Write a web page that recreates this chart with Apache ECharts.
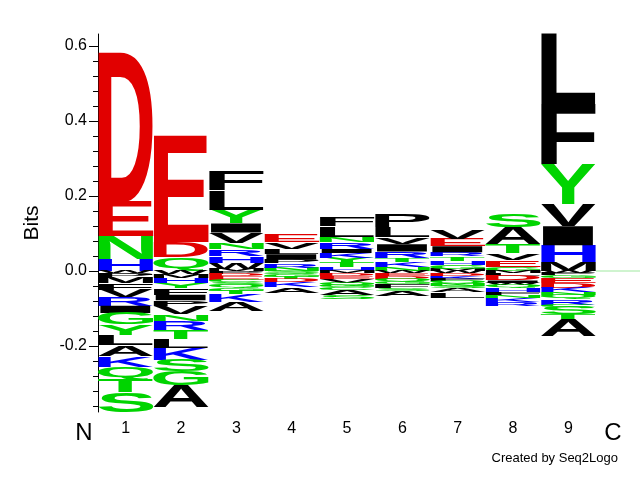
<!DOCTYPE html>
<html>
<head>
<meta charset="utf-8">
<script src="https://cdn.jsdelivr.net/npm/echarts@6/dist/echarts.min.js"></script>
<style>html,body{margin:0;padding:0;background:#fff}#c{width:640px;height:480px}</style>
</head>
<body>
<div id="c"></div>
<script>
// ---- data (letters listed from zero outward; heights in bits) ----
const positions = [1, 2, 3, 4, 5, 6, 7, 8, 9];

const posLetters = [
  ['H','N','E','D'],
  ['Q','D','E'],
  ['M','W','H','R','N','V','I','Y','L','F'],
  ['N','R','P','I','L','V','E'],
  ['H','T','Y','K','I','R','N','L','F'],
  ['N','K','T','R','I','V','L','P'],
  ['M','G','H','T','R','I','E','V'],
  ['G','E','V','T','A','S'],
  ['M','H','I','V','Y','F','L']
];
const posBits = [
  [0.032, 0.062, 0.091, 0.400],
  [0.037, 0.040, 0.282],
  [0.006, 0.016, 0.018, 0.018, 0.018, 0.027, 0.024, 0.037, 0.052, 0.053],
  [0.009, 0.011, 0.011, 0.014, 0.015, 0.018, 0.021],
  [0.011, 0.012, 0.012, 0.013, 0.011, 0.018, 0.015, 0.027, 0.025],
  [0.011, 0.012, 0.011, 0.018, 0.020, 0.018, 0.028, 0.035],
  [0.006, 0.011, 0.011, 0.011, 0.011, 0.016, 0.020, 0.022],
  [0.011, 0.018, 0.018, 0.024, 0.047, 0.036],
  [0.025, 0.044, 0.051, 0.058, 0.105, 0.162, 0.187]
];
const negLetters = [
  ['W','P','M','F','V','R','I','G','Y','L','A','K','Q','T','S'],
  ['W','M','H','Y','F','I','P','V','N','R','T','L','K','S','G','A'],
  ['P','D','E','C','S','Q','G','T','K','A'],
  ['S','Q','G','T','D','K','A'],
  ['M','D','E','V','Q','G','C','A','S'],
  ['W','E','D','Q','G','F','S','A'],
  ['W','D','K','F','Q','N','S','A','L'],
  ['M','L','D','I','W','Q','H','F','N','K','R'],
  ['W','P','G','E','D','K','N','Q','R','C','S','T','A']
];
const negBits = [
  [0.005, 0.010, 0.018, 0.018, 0.019, 0.022, 0.020, 0.031, 0.027, 0.027, 0.029, 0.029, 0.035, 0.033, 0.053],
  [0.009, 0.009, 0.013, 0.014, 0.018, 0.015, 0.015, 0.021, 0.018, 0.024, 0.025, 0.025, 0.031, 0.031, 0.037, 0.058],
  [0.007, 0.007, 0.009, 0.006, 0.008, 0.008, 0.008, 0.009, 0.021, 0.024],
  [0.005, 0.005, 0.006, 0.005, 0.009, 0.013, 0.015],
  [0.006, 0.007, 0.008, 0.010, 0.008, 0.005, 0.006, 0.014, 0.010],
  [0.006, 0.008, 0.007, 0.007, 0.008, 0.009, 0.008, 0.014],
  [0.005, 0.007, 0.008, 0.006, 0.007, 0.007, 0.006, 0.010, 0.015],
  [0.006, 0.007, 0.012, 0.007, 0.005, 0.008, 0.010, 0.008, 0.008, 0.011, 0.011],
  [0.005, 0.006, 0.008, 0.012, 0.013, 0.012, 0.008, 0.011, 0.015, 0.006, 0.020, 0.013, 0.044]
];
const yMajorTicks = [-0.2, 0.0, 0.2, 0.4, 0.6];
const yMinorStep = 0.04;

// ---- styles ----
const letterColors = {
  red: ['D','E'],
  blue: ['K','R','H'],
  green: ['N','Q','S','T','G','Y','C']
};
const colorValues = { red: '#e10000', blue: '#0000ff', green: '#00d400', black: '#000000' };
function colorOf(ch) {
  for (const k in letterColors) if (letterColors[k].indexOf(ch) >= 0) return colorValues[k];
  return colorValues.black;
}
const LETTER_FONT = 'bold 100px "Liberation Sans"';

// ---- glyph ink measurement ----
const mctx = document.createElement('canvas').getContext('2d');
const inkCache = {};
function inkBox(ch) {
  if (inkCache[ch]) return inkCache[ch];
  mctx.font = LETTER_FONT;
  mctx.textBaseline = 'middle';
  mctx.textAlign = 'left';
  const m = mctx.measureText(ch);
  const b = { l: m.actualBoundingBoxLeft, r: m.actualBoundingBoxRight, a: m.actualBoundingBoxAscent, d: m.actualBoundingBoxDescent };
  inkCache[ch] = b;
  return b;
}

// ---- build stacks ----
const stackData = [];
const stackGlyphs = [];
let maxPos = 0, maxNeg = 0;
positions.forEach((p, i) => {
  let base = 0;
  posLetters[i].forEach((ch, j) => {
    const v = posBits[i][j];
    stackData.push([p, base, base + v]);
    stackGlyphs.push(ch);
    base += v;
  });
  maxPos = Math.max(maxPos, base);
  base = 0;
  negLetters[i].forEach((ch, j) => {
    const v = negBits[i][j];
    stackData.push([p, -base, -(base + v)]);
    stackGlyphs.push(ch);
    base += v;
  });
  maxNeg = Math.max(maxNeg, base);
});
const yMin = -maxNeg, yMax = maxPos;
const yMinorTicks = [];
for (let k = Math.ceil(yMin / yMinorStep); k * yMinorStep <= yMax + 1e-9; k++) {
  const v = +(k * yMinorStep).toFixed(4);
  if (!yMajorTicks.some(t => Math.abs(t - v) < 1e-6)) yMinorTicks.push(v);
}

const xMin = 0.5, xMax = 10.295;

function renderLetter(params, api) {
  const ch = stackGlyphs[params.dataIndex];
  const x = api.value(0), a = api.value(1), b = api.value(2);
  const top = Math.max(a, b), bot = Math.min(a, b);
  const p0 = api.coord([x - 0.5, top]);
  const p1 = api.coord([x + 0.5, bot]);
  const w = p1[0] - p0[0], h = p1[1] - p0[1];
  if (h <= 0) return null;
  const ib = inkBox(ch);
  const sx = w / (ib.l + ib.r), sy = h / (ib.a + ib.d);
  return {
    type: 'text',
    x: p0[0] + sx * ib.l,
    y: p0[1] + sy * ib.a,
    scaleX: sx,
    scaleY: sy,
    style: { text: ch, font: LETTER_FONT, fill: colorOf(ch), align: 'left', verticalAlign: 'middle' }
  };
}

const chart = echarts.init(document.getElementById('c'), null, { renderer: 'canvas' });
chart.setOption({
  animation: false,
  backgroundColor: '#ffffff',
  textStyle: { fontFamily: 'Liberation Sans' },
  grid: { left: 98, right: 0, top: 34, bottom: 68, containLabel: false },
  xAxis: {
    type: 'value', min: xMin, max: xMax,
    axisLine: { show: false }, axisTick: { show: false }, splitLine: { show: false },
    axisLabel: {
      customValues: positions, formatter: v => String(v),
      color: '#000', fontSize: 16, margin: 9, fontFamily: 'Liberation Sans'
    }
  },
  yAxis: [{
    type: 'value', min: yMin, max: yMax, position: 'left',
    name: 'Bits', nameLocation: 'middle', nameGap: 55,
    nameTextStyle: { color: '#000', fontSize: 21, fontFamily: 'Liberation Sans' },
    axisLine: { show: true, lineStyle: { color: '#000', width: 1 } },
    axisTick: { show: true, customValues: yMajorTicks, length: 9, lineStyle: { color: '#000', width: 1 } },
    axisLabel: {
      customValues: yMajorTicks, formatter: v => v.toFixed(1),
      color: '#000', fontSize: 16, margin: 11, fontFamily: 'Liberation Sans'
    },
    splitLine: { show: false }
  }, {
    type: 'value', min: yMin, max: yMax, position: 'left', offset: 0,
    axisLine: { show: false },
    axisTick: { show: true, customValues: yMinorTicks, length: 5, lineStyle: { color: '#000', width: 1 } },
    axisLabel: { show: false },
    splitLine: { show: false }
  }],
  series: [{
    type: 'custom',
    renderItem: renderLetter,
    data: stackData,
    encode: { x: 0, y: [1, 2] },
    clip: false,
    silent: true
  }, {
    type: 'line',
    data: [[9.5, 0], [xMax, 0]],
    symbol: 'none',
    silent: true,
    lineStyle: { color: '#9fe89f', width: 1 }
  }],
  graphic: [
    { type: 'text', x: 84, y: 433, style: { text: 'N', font: '24px "Liberation Sans"', fill: '#000', align: 'center', verticalAlign: 'middle' } },
    { type: 'text', x: 613, y: 433, style: { text: 'C', font: '24px "Liberation Sans"', fill: '#000', align: 'center', verticalAlign: 'middle' } },
    { type: 'text', x: 618, y: 458, style: { text: 'Created by Seq2Logo', font: '13px "Liberation Sans"', fill: '#000', align: 'right', verticalAlign: 'middle' } }
  ]
});
</script>
</body>
</html>
